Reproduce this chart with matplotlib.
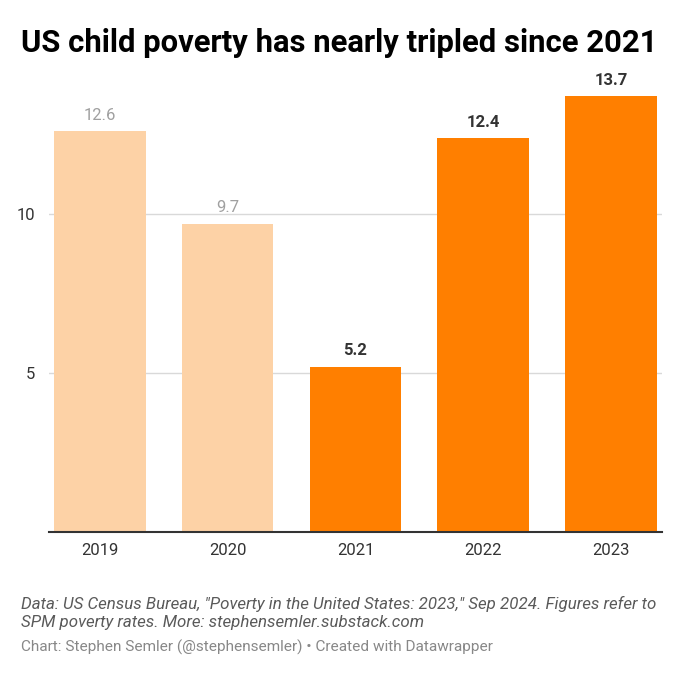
import matplotlib
matplotlib.use("Agg")
import matplotlib.pyplot as plt

years = ["2019", "2020", "2021", "2022", "2023"]
rates = [12.6, 9.7, 5.2, 12.4, 13.7]
highlight = [False, False, True, True, True]

plt.rcParams['font.family'] = ['Roboto', 'DejaVu Sans']

fig = plt.figure(figsize=(6.8, 6.79), dpi=100)
ax = fig.add_axes([0.072, 0.2165, 0.9015, 0.6789])

light = '#fdd2a6'
dark = '#ff7f00'
colors = [dark if h else light for h in highlight]
x = range(len(years))
bars = ax.bar(x, rates, width=0.716, color=colors, zorder=2)

for i, (v, h) in enumerate(zip(rates, highlight)):
    if h:
        ax.text(i, v + 0.26, f"{v:.1f}", ha='center', va='bottom', fontsize=12,
                fontweight='bold', color='#333333')
    else:
        ax.text(i, v + 0.26, f"{v:.1f}", ha='center', va='bottom', fontsize=12,
                color='#a0a0a0')

ax.set_xlim(-0.4, 4.4)
ax.set_ylim(0, 14.5)
ax.set_yticks([5, 10])
ax.set_yticklabels(['5', '10'])
ax.set_xticks(list(x))
ax.set_xticklabels(years)
ax.grid(axis='y', color='#d9d9d9', linewidth=1, zorder=0)
for s in ['top', 'right', 'left']:
    ax.spines[s].set_visible(False)
ax.spines['bottom'].set_color('#333333')
ax.spines['bottom'].set_linewidth(1.5)
ax.tick_params(axis='y', length=0, labelsize=12, labelcolor='#333333', pad=10)
ax.tick_params(axis='x', length=0, labelsize=12, labelcolor='#333333', pad=8)

fig.text(0.031, 0.937, "US child poverty has nearly tripled since 2021", fontsize=22.3,
         fontweight='bold', color='#000000', va='center', ha='left')

fig.text(0.031, 0.0972, "Data: US Census Bureau, \"Poverty in the United States: 2023,\" Sep 2024. Figures refer to\nSPM poverty rates. More: stephensemler.substack.com",
         fontsize=12.2, style='italic', color='#5a5a5a', va='center', ha='left', linespacing=1.28)
fig.text(0.031, 0.046, "Chart: Stephen Semler (@stephensemler) \u2022 Created with Datawrapper",
         fontsize=11.1, color='#888888', va='center', ha='left')

fig.savefig("out.png", dpi=100, facecolor='white')
